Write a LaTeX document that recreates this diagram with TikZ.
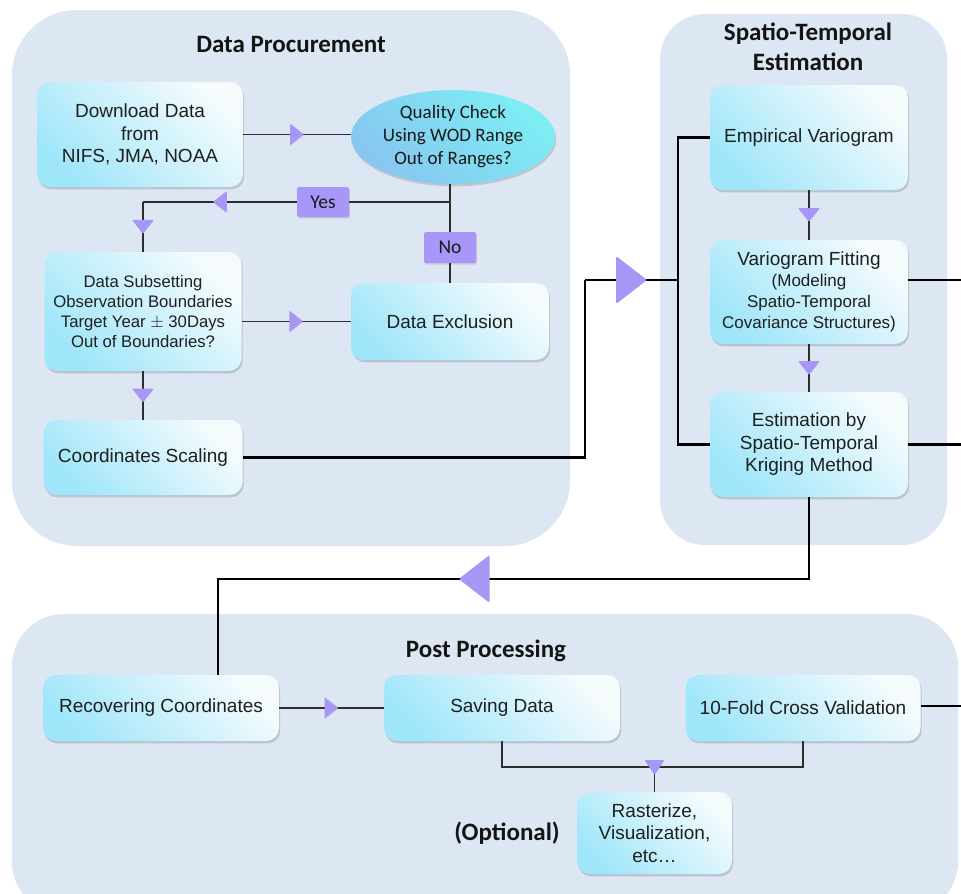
\documentclass[tikz,border=0pt]{standalone}
\usepackage{fontspec}
\setmainfont{Liberation Sans}
\newfontfamily\calib{Carlito}
\usetikzlibrary{shapes.geometric,shadows,decorations.markings,calc}
\definecolor{grp}{RGB}{221,231,244}
\definecolor{boxc}{RGB}{160,230,250}
\definecolor{boxw}{RGB}{245,251,253}
\definecolor{elb}{RGB}{136,198,240}
\definecolor{elc}{RGB}{124,238,243}
\definecolor{trif}{RGB}{167,150,245}
\definecolor{lbl}{RGB}{168,150,248}
\definecolor{ln}{RGB}{45,45,45}
\begin{document}
\begin{tikzpicture}[x=1pt,y=-1pt,
  grpbox/.style={rectangle, fill=grp, inner sep=0pt},
  procbox/.style={rectangle, rounded corners=13pt, top color=boxc, bottom color=boxw, shading angle=135,
    drop shadow={shadow xshift=1.2pt, shadow yshift=-2.4pt, opacity=0.28, fill=black!60},
    inner sep=0pt, align=center, text=black!88, font=\fontsize{19}{22.5}\selectfont},
  smallbox/.style={procbox, font=\fontsize{16.7}{20}\selectfont},
  decision/.style={ellipse, top color=elb, bottom color=elc, shading angle=135,
    drop shadow={shadow xshift=1.2pt, shadow yshift=-2.4pt, opacity=0.25, fill=black!60},
    inner sep=0pt, align=center, text=black!90, font=\calib\fontsize{19}{23}\selectfont},
  lblbox/.style={rectangle, fill=lbl, rounded corners=2pt, minimum width=52pt, minimum height=30pt,
    inner sep=0pt, text=black!90, font=\calib\fontsize{19.5}{22}\selectfont,
    drop shadow={shadow xshift=1pt, shadow yshift=-1.5pt, opacity=0.2, fill=black!60}},
  grptitle/.style={align=center, inner sep=0pt, text=black!92, font=\calib\bfseries\fontsize{25}{30}\selectfont},
  conn/.style={draw=ln, line width=1.2pt},
  busline/.style={draw=black, line width=2.3pt},
  midtri/.style={postaction={decorate, decoration={markings, mark=at position #1 with
    {\fill[trif, rounded corners=1pt] (7,0) -- (-7,-11) -- (-7,11) -- cycle;}}}},
  midtri/.default=0.5,
  bigtri/.style={postaction={decorate, decoration={markings, mark=at position #1 with
    {\fill[trif, rounded corners=1.5pt] (15.5,0) -- (-15.5,-24) -- (-15.5,24) -- cycle;}}}},
  bigtri/.default=0.5
]
\useasboundingbox (0,0) rectangle (961,894);
\clip (0,0) rectangle (961,894);
\fill[white] (0,0) rectangle (961,894);

% groups
\node[grpbox, minimum width=558pt, minimum height=536pt, rounded corners=65pt] (g1) at (291,278) {};
\node[grpbox, minimum width=287pt, minimum height=531pt, rounded corners=45pt] (g2) at (803.5,279.5) {};
\node[grpbox, minimum width=946pt, minimum height=300pt, rounded corners=52pt] (g3) at (485,764) {};

\node[grptitle] (t1) at (291,44) {Data Procurement};
\node[grptitle] (t2) at (808,47) {Spatio-Temporal\\Estimation};
\node[grptitle] (t3) at (486,651) {Post Processing};

% data procurement
\node[procbox, minimum width=206pt, minimum height=105pt] (dl) at (140,134.5) {Download Data\\from\\NIFS, JMA, NOAA};
\node[decision, minimum width=204pt, minimum height=94pt] (qc) at (453,137) {Quality Check\\Using WOD Range\\Out of Ranges?};
\node[smallbox, minimum width=197pt, minimum height=119pt] (ds) at (143,311.5) {Data Subsetting\\Observation Boundaries\\Target Year $\pm$ 30Days\\Out of Boundaries?};
\node[procbox, minimum width=198pt, minimum height=77pt] (dx) at (450,321.5) {Data Exclusion};
\node[procbox, minimum width=199pt, minimum height=75pt] (cs) at (143,457.5) {Coordinates Scaling};
\node[lblbox] (yes) at (323,202) {Yes};
\node[lblbox, minimum height=31pt] (no) at (450,247.5) {No};

% estimation
\node[procbox, minimum width=198pt, minimum height=105pt] (ev) at (809,137.5) {Empirical Variogram};
\node[procbox, minimum width=198pt, minimum height=104pt, font=\fontsize{17}{21}\selectfont] (vf) at (809,292)
  {{\fontsize{19}{21}\selectfont Variogram Fitting}\\(Modeling\\Spatio-Temporal\\Covariance Structures)};
\node[procbox, minimum width=198pt, minimum height=105pt] (es) at (809,444.5) {Estimation by\\Spatio-Temporal\\Kriging Method};

% post processing
\node[procbox, minimum width=236pt, minimum height=66pt] (rc) at (161,708) {Recovering Coordinates};
\node[procbox, minimum width=236pt, minimum height=66pt] (sd) at (502,708) {Saving Data};
\node[procbox, minimum width=235pt, minimum height=66pt] (tf) at (803,708) {10-Fold Cross Validation};
\node[procbox, minimum width=155pt, minimum height=82pt] (ra) at (654.5,833) {Rasterize,\\Visualization,\\etc\dots};
\node[grptitle] (opt) at (507,833) {(Optional)};

% connectors: data procurement
\draw[conn, midtri] (dl.east) -- (dl.east -| qc.west);
\draw[conn] (dx.north |- qc.south) -- (no.north);
\draw[conn] (no.south) -- (dx.north);
\coordinate (yj) at (dx.north |- yes);
\coordinate (yc) at (ds.north |- yes);
\draw[conn] (yj) -- (yes.east);
\draw[conn, midtri] (yes.west) -- (yc);
\draw[conn, midtri] (yc) -- (ds.north);
\draw[conn, midtri] (dx.west -| ds.east) -- (dx.west);
\draw[conn, midtri] (ds.south) -- (cs.north);

% thick connectors
\coordinate (cj) at (585,280);
\coordinate (bx) at (678,280);
\draw[busline] (cs.east) -| (cj);
\draw[busline, bigtri] (cj) -- (bx);
\draw[busline] (ev.west) -| (bx) |- (es.west);
\draw[conn, midtri] (ev.south) -- (vf.north);
\draw[conn, midtri] (vf.south) -- (es.north);
\coordinate (r1) at (961,280);
\coordinate (r2) at (961,444.5);
\coordinate (r3) at (961,706);
\draw[busline] (vf.east |- r1) -- (r1);
\draw[busline] (es.east) -- (r2);
\draw[busline] (tf.east |- r3) -- (r3);
\coordinate (dc) at (218,579);
\draw[busline, bigtri=0.542] (es.south) |- (dc) -- (dc |- rc.north);

% connectors: post processing
\draw[conn, midtri] (rc.east) -- (sd.west);
\coordinate (jn) at (ra.north |- 0,767);
\draw[conn] (sd.south) |- (jn) -| (tf.south);
\draw[conn] (jn) -- (ra.north);
\fill[trif, rounded corners=1pt] ($(jn)+(-10,-7)$) -- ($(jn)+(10,-7)$) -- ($(jn)+(0,8)$) -- cycle;
\end{tikzpicture}
\end{document}
